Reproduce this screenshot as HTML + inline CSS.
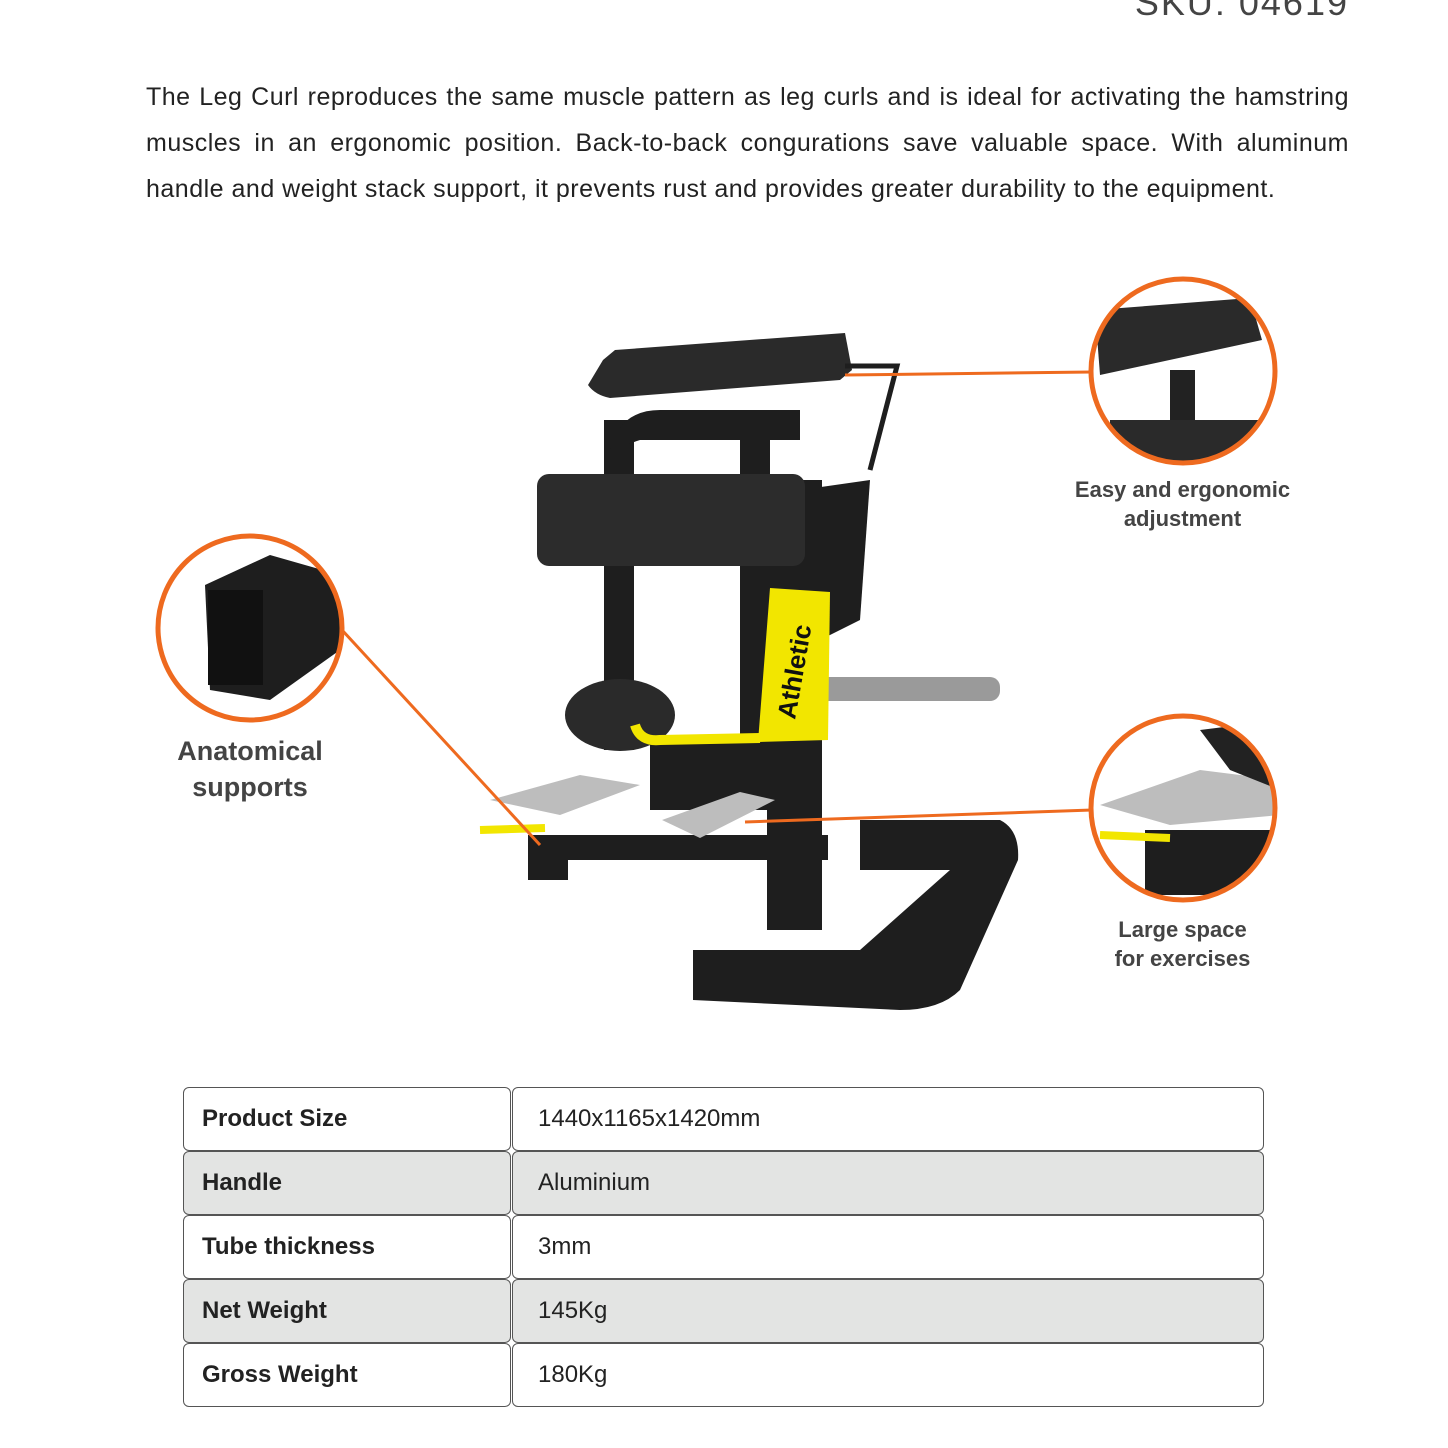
<!DOCTYPE html>
<html><head><meta charset="utf-8"><style>
body{margin:0;width:1448px;height:1448px;background:#fff;position:relative;overflow:hidden;font-family:"Liberation Sans",sans-serif;color:#222}
.sku{position:absolute;right:99px;top:-18px;font-size:36px;color:#444;letter-spacing:2px}
.p{position:absolute;left:146px;width:1203px;font-size:25px;line-height:30px;color:#222;letter-spacing:0.5px}
.j{text-align:justify;text-align-last:justify}
.cell{position:absolute;border:1.5px solid #555;border-radius:6px;box-sizing:border-box;font-size:24px;display:flex;align-items:center}
.l{left:183px;width:328px;font-weight:bold;padding-left:18px}
.r{left:512px;width:752px;padding-left:25px;color:#222}
.g{background:#e3e4e3}
.lab{position:absolute;font-weight:bold;color:#444;text-align:center}
</style></head><body>
<div class="sku">SKU: 04619</div>
<div class="p j" style="top:82px">The Leg Curl reproduces the same muscle pattern as leg curls and is ideal for activating the hamstring</div>
<div class="p j" style="top:128px">muscles in an ergonomic position. Back-to-back congurations save valuable space. With aluminum</div>
<div class="p" style="top:174px">handle and weight stack support, it prevents rust and provides greater durability to the equipment.</div>
<svg style="position:absolute;left:0;top:0" width="1448" height="1448">
<g fill="#1e1e1e">
<path d="M693 950 L860 950 L950 870 L860 870 L860 820 L1000 820 Q1020 830 1018 860 L960 990 Q940 1010 900 1010 L693 1000 Z"/>
<rect x="528" y="835" width="300" height="25"/>
<rect x="528" y="835" width="40" height="45"/>
<rect x="767" y="480" width="55" height="450"/>
<rect x="604" y="420" width="30" height="330"/>
<rect x="740" y="420" width="30" height="330"/>
<path d="M800 490 L870 480 L860 620 L820 640 Z"/>
<path d="M610 450 Q620 410 660 410 L800 410 L800 440 L640 440 Z"/>
<rect x="650" y="740" width="120" height="70"/>
</g>
<path d="M603 360 L615 350 L845 333 L852 370 L840 380 L610 398 Q595 395 588 385 Z" fill="#2a2a2a"/>
<path d="M845 366 L897 366 L870 470" fill="none" stroke="#1e1e1e" stroke-width="5"/>
<rect x="537" y="474" width="268" height="92" rx="12" fill="#2c2c2c"/>
<ellipse cx="620" cy="715" rx="55" ry="36" fill="#2a2a2a"/>
<rect x="810" y="677" width="190" height="24" rx="10" fill="#9a9a9a"/>
<path d="M770 588 L830 592 L828 740 L758 742 Z" fill="#f2e600"/>
<text x="0" y="0" transform="translate(795,720) rotate(-80)" font-size="26" font-weight="bold" fill="#111">Athletic</text>
<path d="M635 725 Q640 742 660 740 L760 738" fill="none" stroke="#f2e600" stroke-width="10"/>
<path d="M490 800 L580 775 L640 785 L560 815 Z" fill="#bdbdbd"/>
<path d="M662 820 L740 792 L775 800 L700 838 Z" fill="#bdbdbd"/>
<path d="M480 830 L545 828" stroke="#f2e600" stroke-width="8"/>
<g stroke="#ee6a1f" stroke-width="3" fill="none">
<line x1="845" y1="375" x2="1092" y2="372"/>
<line x1="342" y1="630" x2="540" y2="845"/>
<line x1="745" y1="822" x2="1092" y2="810"/>
</g>
<defs>
<clipPath id="c1"><circle cx="1183" cy="371" r="91"/></clipPath>
<clipPath id="c2"><circle cx="250" cy="628" r="91"/></clipPath>
<clipPath id="c3"><circle cx="1183" cy="808" r="91"/></clipPath>
</defs>
<g clip-path="url(#c1)"><rect x="1090" y="280" width="190" height="190" fill="#fff"/><path d="M1095 310 L1250 298 L1262 340 L1100 375 Z" fill="#2a2a2a"/><rect x="1170" y="370" width="25" height="60" fill="#222"/><rect x="1110" y="420" width="170" height="50" fill="#2a2a2a"/></g>
<g clip-path="url(#c2)"><rect x="158" y="535" width="190" height="190" fill="#fff"/><path d="M205 585 L270 555 L340 575 L340 650 L270 700 L210 690 Z" fill="#1e1e1e"/><rect x="208" y="590" width="55" height="95" fill="#111"/></g>
<g clip-path="url(#c3)"><rect x="1090" y="715" width="190" height="190" fill="#fff"/><path d="M1100 805 L1200 770 L1280 780 L1280 815 L1170 825 Z" fill="#bdbdbd"/><rect x="1145" y="830" width="140" height="65" fill="#1e1e1e"/><path d="M1200 730 L1280 720 L1280 790 L1230 770 Z" fill="#222"/><path d="M1100 835 L1170 838" stroke="#f2e600" stroke-width="8"/></g>
<g stroke="#ee6a1f" stroke-width="5" fill="none">
<circle cx="1183" cy="371" r="92"/><circle cx="250" cy="628" r="92"/><circle cx="1183" cy="808" r="92"/>
</g>
</svg>
<div class="lab" style="left:1060px;top:475px;width:245px;font-size:22px;line-height:29px">Easy and ergonomic<br>adjustment</div>
<div class="lab" style="left:140px;top:733px;width:220px;font-size:27px;line-height:36px">Anatomical<br>supports</div>
<div class="lab" style="left:1080px;top:915px;width:205px;font-size:22px;line-height:29px">Large space<br>for exercises</div>
<div class="cell l" style="top:1087px;height:64px">Product Size</div><div class="cell r" style="top:1087px;height:64px">1440x1165x1420mm</div>
<div class="cell l g" style="top:1151px;height:64px">Handle</div><div class="cell r g" style="top:1151px;height:64px">Aluminium</div>
<div class="cell l" style="top:1215px;height:64px">Tube thickness</div><div class="cell r" style="top:1215px;height:64px">3mm</div>
<div class="cell l g" style="top:1279px;height:64px">Net Weight</div><div class="cell r g" style="top:1279px;height:64px">145Kg</div>
<div class="cell l" style="top:1343px;height:64px">Gross Weight</div><div class="cell r" style="top:1343px;height:64px">180Kg</div>
</body></html>
